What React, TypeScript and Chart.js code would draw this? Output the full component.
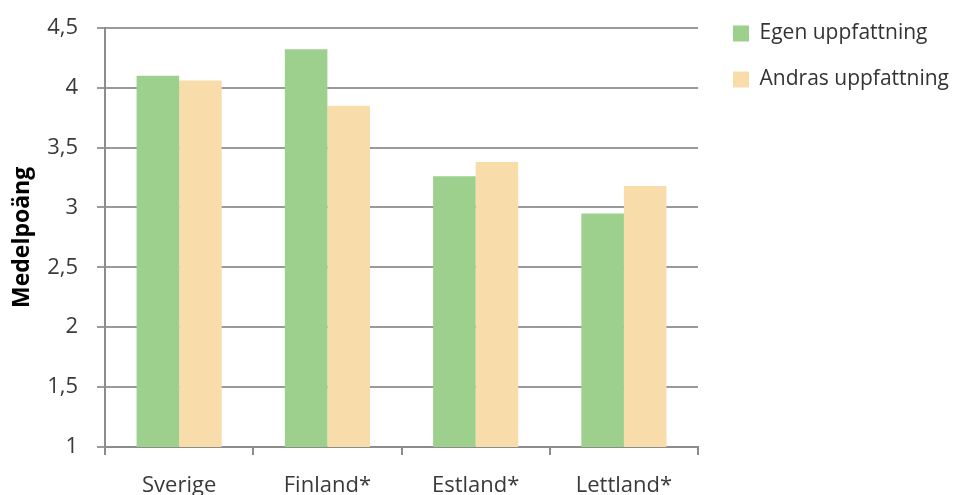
import React, { useEffect, useRef } from "react";
import { Chart, registerables } from "chart.js";

Chart.register(...registerables);

const categories = ["Sverige", "Finland*", "Estland*", "Lettland*"];
const egenValues = [4.1, 4.32, 3.26, 2.95];
const andrasValues = [4.06, 3.85, 3.38, 3.18];
const seriesLabels = ["Egen uppfattning", "Andras uppfattning"];
const yTitle = "Medelpoäng";

export default function App() {
  const ref = useRef<HTMLCanvasElement | null>(null);
  useEffect(() => {
    if (!ref.current) return;
    const chart = new Chart(ref.current, {
      type: "bar",
      data: {
        labels: categories,
        datasets: [
          {
            label: seriesLabels[0],
            data: egenValues,
            backgroundColor: "#9dd08d",
            borderWidth: 0,
            categoryPercentage: 0.574,
            barPercentage: 1,
          },
          {
            label: seriesLabels[1],
            data: andrasValues,
            backgroundColor: "#f8dcaa",
            borderWidth: 0,
            categoryPercentage: 0.574,
            barPercentage: 1,
          },
        ],
      },
      options: {
        animation: false,
        responsive: false,
        maintainAspectRatio: false,
        layout: { padding: { left: 0, top: -2, right: -3, bottom: 0 } },
        plugins: {
          tooltip: { enabled: false },
          legend: {
            position: "right",
            align: "start",
            maxWidth: 260,
            labels: {
              boxWidth: 16,
              boxHeight: 16,
              padding: 25,
              color: "#333",
              font: { family: "Open Sans", size: 21 },
            },
          },
        },
        scales: {
          x: {
            offset: true,
            grid: {
              offset: true,
              drawOnChartArea: false,
              drawTicks: true,
              tickLength: 8,
              color: "#8c8c8c",
              lineWidth: 2,
            },
            border: { color: "#8c8c8c", width: 2 },
            ticks: {
              padding: 18,
              color: "#3a3a3a",
              font: { family: "Open Sans", size: 22 },
            },
            afterFit: (s: any) => {
              s.height = 48;
            },
          },
          y: {
            min: 1,
            max: 4.5,
            ticks: {
              stepSize: 0.5,
              padding: 19,
              color: "#3a3a3a",
              font: { family: "Open Sans", size: 22, lineHeight: 0.8 },
              callback: (v: any) => String(v).replace(".", ","),
            },
            grid: {
              color: "#9a9a9a",
              lineWidth: 2,
              tickLength: 8,
            },
            border: { color: "#8c8c8c", width: 2 },
            title: {
              display: true,
              text: yTitle,
              color: "#000",
              padding: { top: 9, bottom: 0 },
              font: { family: "Open Sans", size: 23, weight: "bold" },
            },
            afterFit: (s: any) => {
              s.width = 105;
            },
          },
          yRight: {
            type: "linear",
            position: "right",
            grid: { display: false },
            border: { display: false },
            ticks: { display: false },
            afterFit: (s: any) => {
              s.width = 10;
            },
          },
        },
      },
    });
    return () => chart.destroy();
  }, []);
  return (
    <div style={{ position: "absolute", left: 0, top: 0, width: 956, height: 495 }}>
      <canvas ref={ref} width={956} height={495} style={{ width: 956, height: 495 }} />
    </div>
  );
}
